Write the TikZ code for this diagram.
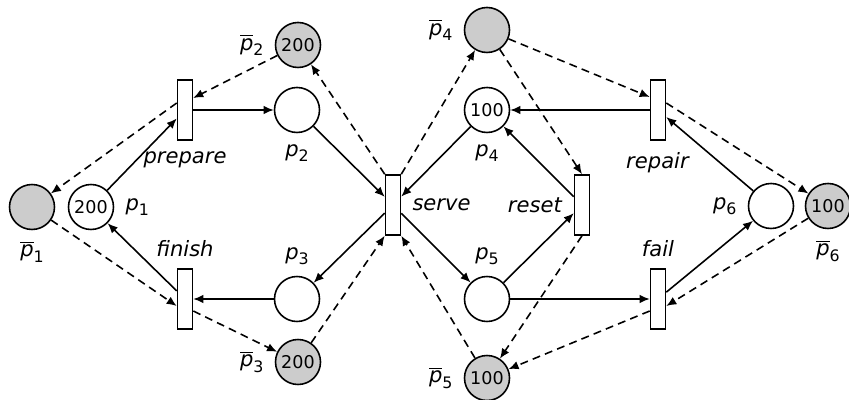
\documentclass[tikz,border=0pt]{standalone}
\usepackage{fontspec}
\setmainfont{DejaVu Sans}
\usepackage{tikz}
\usetikzlibrary{arrows.meta, positioning}

% place names, plain and complementary
\newcommand{\sidx}[1]{\raisebox{-0.25em}{\fontsize{9}{10}\selectfont #1}}
\newcommand{\plc}[1]{\textit{p}\sidx{#1}}
\newcommand{\cplc}[1]{$\overline{\mbox{\textit{p}}}$\sidx{#1}}

\begin{document}
\begin{tikzpicture}[
    font=\fontsize{12}{14}\selectfont,
    node distance=0.1cm,
    place/.style={circle, draw, line width=0.9pt, fill=white, minimum size=0.9cm, inner sep=0pt, font=\fontsize{10}{12}\selectfont},
    cplace/.style={place, fill=black!20},
    trans/.style={rectangle, draw, line width=0.9pt, fill=white, minimum width=0.3cm, minimum height=1.2cm, inner sep=0pt},
    flow/.style={-{Latex[length=2mm,width=1.7mm]}, line width=0.9pt},
    cflow/.style={flow, dash pattern=on 4.5pt off 3pt}
]
    \useasboundingbox (0,0) rectangle (16.98,8);

    % places
    \node[cplace] (pb1) at (0.64,3.86) {};
    \node[place] (p1) at (1.82,3.86) {200};
    \node[cplace] (pb2) at (5.96,7.10) {200};
    \node[place] (p2) at (5.94,5.80) {};
    \node[place] (p3) at (5.94,2.02) {};
    \node[cplace] (pb3) at (5.96,0.76) {200};
    \node[cplace] (pb4) at (9.74,7.40) {};
    \node[place] (p4) at (9.74,5.80) {100};
    \node[place] (p5) at (9.74,2.02) {};
    \node[cplace] (pb5) at (9.74,0.44) {100};
    \node[place] (p6) at (15.42,3.88) {};
    \node[cplace] (pb6) at (16.56,3.88) {100};

    % transitions
    \node[trans] (prepare) at (3.70,5.80) {};
    \node[trans] (finish) at (3.70,2.02) {};
    \node[trans] (serve) at (7.86,3.90) {};
    \node[trans] (reset) at (11.64,3.90) {};
    \node[trans] (repair) at (13.16,5.80) {};
    \node[trans] (fail) at (13.16,2.02) {};

    % labels
    \node[below=of pb1] (lpb1) {\cplc{1}};
    \node[right=of p1] (lp1) {\plc{1}};
    \node[left=of pb2] (lpb2) {\cplc{2}};
    \node[below=of p2] (lp2) {\plc{2}};
    \node[above=of p3] (lp3) {\plc{3}};
    \node[left=of pb3] (lpb3) {\cplc{3}};
    \node[left=of pb4] (lpb4) {\cplc{4}};
    \node[below=of p4] (lp4) {\plc{4}};
    \node[above=of p5] (lp5) {\plc{5}};
    \node[left=of pb5] (lpb5) {\cplc{5}};
    \node[left=of p6] (lp6) {\plc{6}};
    \node[below=of pb6] (lpb6) {\cplc{6}};
    \node[below=of prepare] (lprepare) {\textit{prepare}};
    \node[above=of finish] (lfinish) {\textit{finish}};
    \node[right=of serve] (lserve) {\textit{serve}};
    \node[left=of reset] (lreset) {\textit{reset}};
    \node[below=of repair] (lrepair) {\textit{repair}};
    \node[above=of fail] (lfail) {\textit{fail}};

    % arcs
    \draw[flow] (p1) -- (prepare);
    \draw[flow] (prepare) -- (p2);
    \draw[flow] (p2) -- (serve);
    \draw[flow] (serve) -- (p3);
    \draw[flow] (p3) -- (finish);
    \draw[flow] (finish) -- (p1);
    \draw[flow] (p4) -- (serve);
    \draw[flow] (serve) -- (p5);
    \draw[flow] (p5) -- (reset);
    \draw[flow] (reset) -- (p4);
    \draw[flow] (repair) -- (p4);
    \draw[flow] (p6) -- (repair);
    \draw[flow] (p5) -- (fail);
    \draw[flow] (fail) -- (p6);

    % complementary arcs
    \draw[cflow] (pb2) -- ([yshift=0.24cm]prepare.east);
    \draw[cflow] ([yshift=0.14cm]prepare.west) -- (pb1);
    \draw[cflow] (serve.north west) -- (pb2);
    \draw[cflow] (pb1) -- ([yshift=-0.14cm]finish.west);
    \draw[cflow] ([yshift=-0.24cm]finish.east) -- (pb3);
    \draw[cflow] (pb3) -- (serve.south west);
    \draw[cflow] (serve.north east) -- (pb4);
    \draw[cflow] (pb5) -- (serve.south east);
    \draw[cflow] (pb4) -- (reset.north);
    \draw[cflow] (reset.south) -- (pb5);
    \draw[cflow] (pb4) -- ([yshift=0.26cm]repair.west);
    \draw[cflow] ([yshift=0.14cm]repair.east) -- (pb6);
    \draw[cflow] (pb6) -- ([yshift=-0.14cm]fail.east);
    \draw[cflow] ([yshift=-0.24cm]fail.west) -- (pb5);
\end{tikzpicture}
\end{document}
